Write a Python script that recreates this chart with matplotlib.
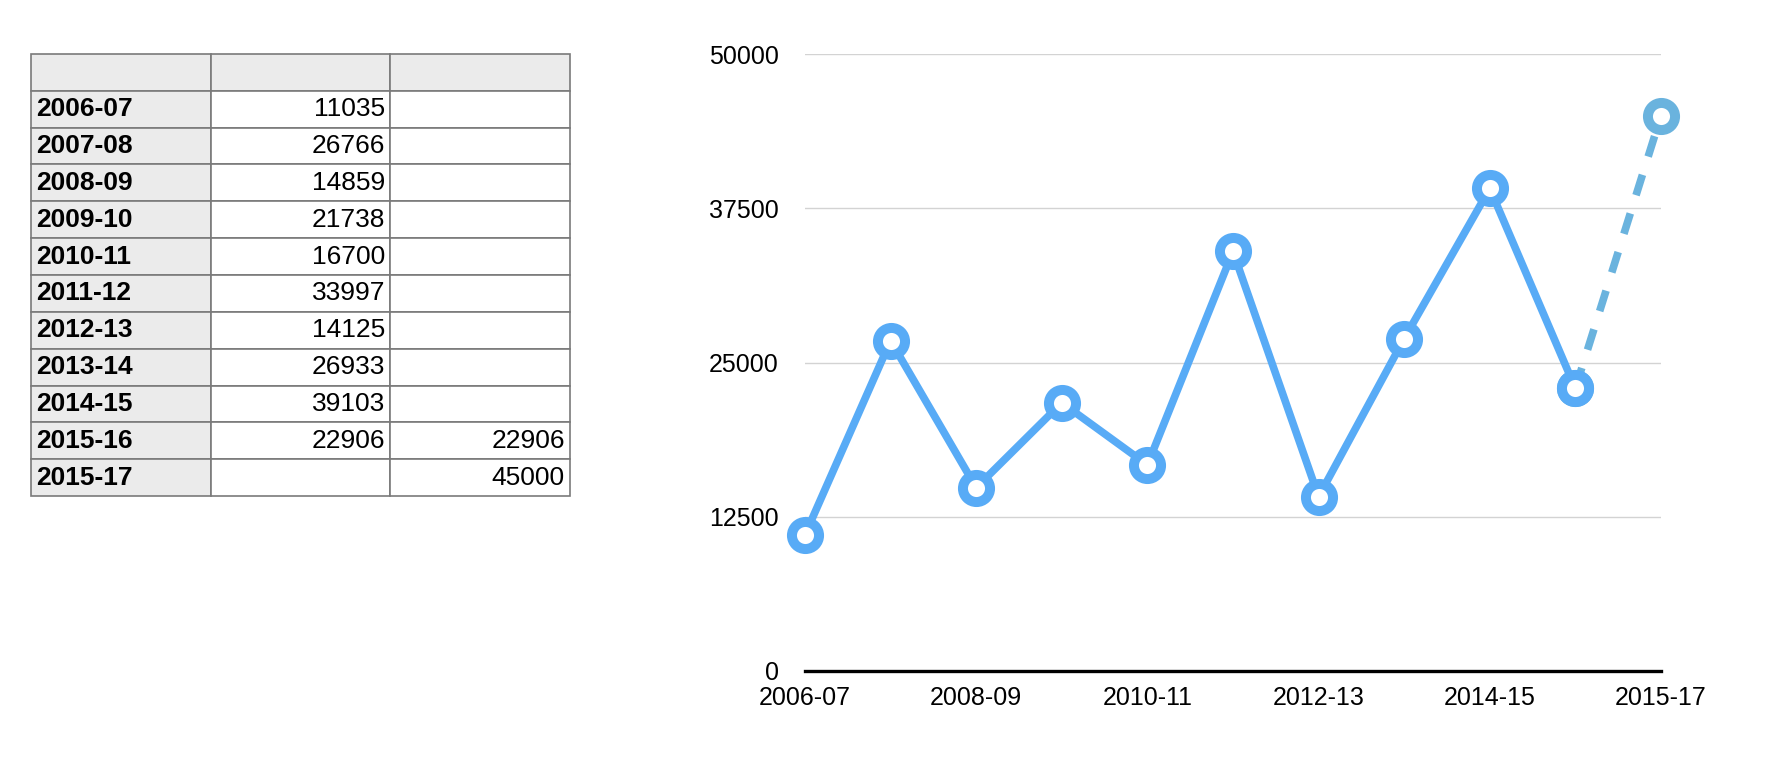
import numpy as np
import matplotlib
matplotlib.use("Agg")
import matplotlib.pyplot as plt

plt.rcParams["font.family"] = ["Liberation Sans", "DejaVu Sans"]

periods = ["2006-07", "2007-08", "2008-09", "2009-10", "2010-11", "2011-12",
           "2012-13", "2013-14", "2014-15", "2015-16", "2015-17"]
actual = [11035, 26766, 14859, 21738, 16700, 33997, 14125, 26933, 39103, 22906, None]
forecast = [None, None, None, None, None, None, None, None, None, 22906, 45000]
y_ticks = [0, 12500, 25000, 37500, 50000]

main_blue = "#58abf6"
dash_blue = "#6ab3de"

fig = plt.figure(figsize=(17.78, 7.82), dpi=100)

# ---- table on the left ----
tax = fig.add_axes([31 / 1778, 286 / 782, 539 / 1778, 442 / 782])
tax.axis("off")

fmt = lambda v: "" if v is None else str(v)
cell_text = [["", "", ""]] + [[p, fmt(a), fmt(f)] for p, a, f in zip(periods, actual, forecast)]
gray = "#ebebeb"
cell_colours = [[gray, gray, gray]] + [[gray, "white", "white"] for _ in periods]

tbl = tax.table(cellText=cell_text, cellColours=cell_colours, bbox=[0, 0, 1, 1])
tbl.auto_set_font_size(False)
tbl.set_fontsize(19)
for (r, c), cell in tbl.get_celld().items():
    cell.set_edgecolor("#7a7a7a")
    cell.set_linewidth(1.2)
    cell.PAD = 0.028
    loc = "left" if c == 0 else "right"
    cell._loc = loc
    cell.get_text().set_horizontalalignment(loc)
    if c == 0:
        cell.get_text().set_fontweight("bold")

# ---- line chart on the right ----
ax = fig.add_axes([805 / 1778, 111 / 782, 856 / 1778, 617 / 782])
x = np.arange(len(periods))
a = np.array([np.nan if v is None else v for v in actual], dtype=float)
f = np.array([np.nan if v is None else v for v in forecast], dtype=float)

ax.plot(x, f, color=dash_blue, lw=5.5, dashes=(2.8, 2.5), marker="o", ms=19.5,
        mew=7.2, mfc="white", mec=dash_blue, clip_on=False, zorder=3)
ax.plot(x, a, color=main_blue, lw=5.5, marker="o", ms=19.5, mew=7.2,
        mfc="white", mec=main_blue, clip_on=False, zorder=4)

ax.set_xlim(0, len(periods) - 1)
ax.set_ylim(0, 50000)
ax.set_yticks(y_ticks)
ax.set_yticklabels([str(t) for t in y_ticks])
ax.set_xticks(x[::2])
ax.set_xticklabels(periods[::2])
ax.tick_params(axis="both", length=0, labelsize=18)
ax.tick_params(axis="y", pad=19)
ax.tick_params(axis="x", pad=11)
ax.yaxis.grid(True, color="#d3d3d3", lw=1)
ax.set_axisbelow(True)
for s in ["left", "right", "top"]:
    ax.spines[s].set_visible(False)
ax.spines["bottom"].set_color("black")
ax.spines["bottom"].set_linewidth(2.4)

fig.savefig("out.png", dpi=100)
